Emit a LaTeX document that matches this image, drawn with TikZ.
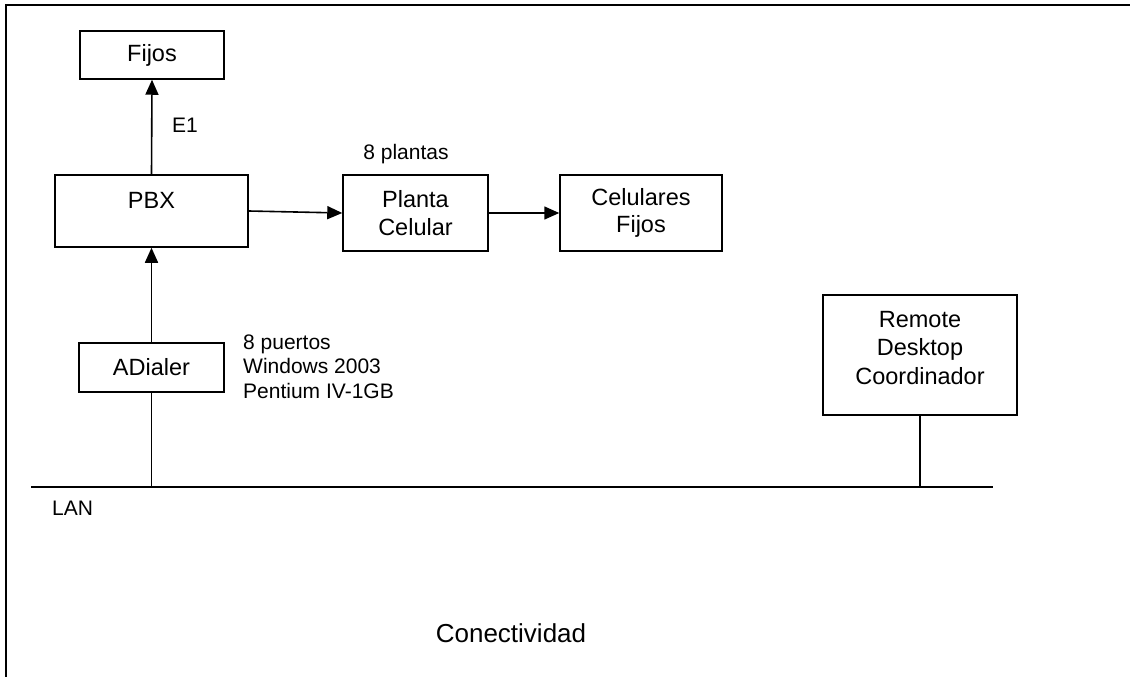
\documentclass[tikz,border=0pt]{standalone}
\usepackage{fontspec}
\setmainfont{Liberation Sans}
\usetikzlibrary{arrows.meta}
\tikzset{
  box/.style={draw, line width=1.5pt, inner sep=0pt, font=\fontsize{23.5}{27.5}\selectfont, align=center},
  ann/.style={inner sep=0pt, font=\fontsize{21}{24.5}\selectfont},
  conn/.style={line width=1.6pt},
  arr/.style={conn, -{Triangle[length=15pt,width=13pt]}},
  frame/.style={line width=2pt}
}
\begin{document}
\begin{tikzpicture}[x=1pt,y=-1pt]
\clip (0,0) rectangle (1130,677);
\fill[white] (0,0) rectangle (1130,677);
% outer frame (only top and left sides visible)
\coordinate (frBL) at (6,700);
\coordinate (frTL) at (6,5.5);
\coordinate (frTR) at (1140,5.5);
\draw[frame] (frBL) -- (frTL) -- (frTR);

% boxes
\node[box, minimum width=144pt, minimum height=48pt] (fijos) at (152,55) {Fijos};
\node[box, minimum width=193pt, minimum height=72pt] (pbx) at (151.5,211) {};
\node[ann, font=\fontsize{23.5}{27.5}\selectfont, anchor=base] (pbxlbl) at (151.5,208) {PBX};
\node[box, minimum width=145pt, minimum height=76pt] (planta) at (415.5,213) {Planta\\Celular};
\node[box, minimum width=162pt, minimum height=76pt] (cel) at (641,213) {Celulares\\Fijos};
\node[box, minimum width=145pt, minimum height=49pt] (adialer) at (151.5,367.5) {ADialer};
\node[box, minimum width=194pt, minimum height=120pt] (remote) at (920,355) {};
\node[ann, font=\fontsize{23.5}{28.5}\selectfont, align=center] (remotelbl) at (920,348) {Remote\\Desktop\\Coordinador};

% LAN line
\coordinate (lanL) at (31,487);
\coordinate (lanR) at (993,487);
\draw[conn] (lanL) -- (lanR);

% connectors
\draw[arr] (pbx.north) -- (fijos.south);
\draw[arr] (adialer.north) -- (pbx.south);
\draw[arr] (pbx.east) -- (planta.west);
\draw[arr] (planta.east) -- (cel.west);
\draw[conn] (adialer.south) -- (adialer.south |- lanL);
\draw[conn] (remote.south) -- (remote.south |- lanL);

% annotations
\node[ann, anchor=base west] (e1) at (172,132) {E1};
\node[ann, anchor=base] (plantas) at (406,159) {8 plantas};
\node[ann, anchor=base west] (pt1) at (243,349) {8 puertos};
\node[ann, anchor=base west] (pt2) at (243,373.5) {Windows 2003};
\node[ann, anchor=base west] (pt3) at (243,398) {Pentium IV-1GB};
\node[ann, anchor=base west] (lan) at (52,515) {LAN};
\node[ann, font=\fontsize{26}{30}\selectfont, anchor=base] (title) at (511,642) {Conectividad};
\end{tikzpicture}
\end{document}
